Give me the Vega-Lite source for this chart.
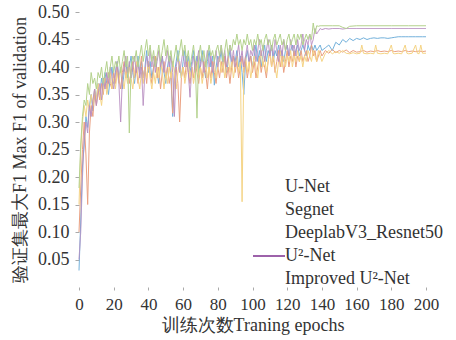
{
"$schema": "https://vega.github.io/schema/vega-lite/v6.json",
"width": 347, "height": 275,
"autosize": {"type": "none"},
"padding": {"left": 79, "top": 12, "right": 30, "bottom": 53},
"background": "white",
"config": {"font": "Liberation Serif", "view": {"stroke": null},
 "legend": {"orient": "none", "title": null, "symbolType": "stroke", "symbolStrokeWidth": 1.5, "labelFontSize": 18, "labelColor": "#333333", "labelOffset": 5, "rowPadding": 0}},
"datasets": {
"unet": [{"e":0,"v":0.03},{"e":1,"v":0.12},{"e":2,"v":0.22},{"e":3,"v":0.26},{"e":4,"v":0.31},{"e":5,"v":0.29},{"e":6,"v":0.33},{"e":7,"v":0.35},{"e":8,"v":0.32},{"e":9,"v":0.36},{"e":10,"v":0.34},{"e":11,"v":0.37},{"e":12,"v":0.35},{"e":13,"v":0.38},{"e":14,"v":0.36},{"e":15,"v":0.39},{"e":16,"v":0.37},{"e":17,"v":0.35},{"e":18,"v":0.38},{"e":19,"v":0.4},{"e":20,"v":0.37},{"e":21,"v":0.39},{"e":22,"v":0.41},{"e":23,"v":0.38},{"e":24,"v":0.4},{"e":25,"v":0.36},{"e":26,"v":0.39},{"e":27,"v":0.41},{"e":28,"v":0.38},{"e":29,"v":0.4},{"e":30,"v":0.42},{"e":31,"v":0.39},{"e":32,"v":0.37},{"e":33,"v":0.4},{"e":34,"v":0.42},{"e":35,"v":0.39},{"e":36,"v":0.41},{"e":37,"v":0.38},{"e":38,"v":0.4},{"e":39,"v":0.43},{"e":40,"v":0.39},{"e":41,"v":0.41},{"e":42,"v":0.38},{"e":43,"v":0.4},{"e":44,"v":0.42},{"e":45,"v":0.39},{"e":46,"v":0.37},{"e":47,"v":0.4},{"e":48,"v":0.42},{"e":49,"v":0.39},{"e":50,"v":0.37},{"e":51,"v":0.4},{"e":52,"v":0.42},{"e":53,"v":0.38},{"e":54,"v":0.31},{"e":55,"v":0.39},{"e":56,"v":0.41},{"e":57,"v":0.43},{"e":58,"v":0.4},{"e":59,"v":0.38},{"e":60,"v":0.41},{"e":61,"v":0.43},{"e":62,"v":0.4},{"e":63,"v":0.42},{"e":64,"v":0.39},{"e":65,"v":0.41},{"e":66,"v":0.43},{"e":67,"v":0.4},{"e":68,"v":0.42},{"e":69,"v":0.39},{"e":70,"v":0.41},{"e":71,"v":0.43},{"e":72,"v":0.4},{"e":73,"v":0.38},{"e":74,"v":0.41},{"e":75,"v":0.43},{"e":76,"v":0.4},{"e":77,"v":0.42},{"e":78,"v":0.367},{"e":79,"v":0.4},{"e":80,"v":0.42},{"e":81,"v":0.41},{"e":82,"v":0.43},{"e":83,"v":0.4},{"e":84,"v":0.42},{"e":85,"v":0.39},{"e":86,"v":0.41},{"e":87,"v":0.43},{"e":88,"v":0.4},{"e":89,"v":0.42},{"e":90,"v":0.41},{"e":91,"v":0.43},{"e":92,"v":0.4},{"e":93,"v":0.42},{"e":94,"v":0.39},{"e":95,"v":0.35},{"e":96,"v":0.41},{"e":97,"v":0.43},{"e":98,"v":0.41},{"e":99,"v":0.42},{"e":100,"v":0.4},{"e":101,"v":0.42},{"e":102,"v":0.44},{"e":103,"v":0.41},{"e":104,"v":0.43},{"e":105,"v":0.4},{"e":106,"v":0.42},{"e":107,"v":0.44},{"e":108,"v":0.41},{"e":109,"v":0.43},{"e":110,"v":0.42},{"e":111,"v":0.44},{"e":112,"v":0.41},{"e":113,"v":0.43},{"e":114,"v":0.42},{"e":115,"v":0.44},{"e":116,"v":0.42},{"e":117,"v":0.43},{"e":118,"v":0.41},{"e":119,"v":0.43},{"e":120,"v":0.44},{"e":121,"v":0.42},{"e":122,"v":0.43},{"e":123,"v":0.44},{"e":124,"v":0.42},{"e":125,"v":0.43},{"e":126,"v":0.44},{"e":127,"v":0.42},{"e":128,"v":0.43},{"e":129,"v":0.44},{"e":130,"v":0.43},{"e":131,"v":0.42},{"e":132,"v":0.44},{"e":133,"v":0.43},{"e":134,"v":0.44},{"e":135,"v":0.43},{"e":136,"v":0.44},{"e":137,"v":0.43},{"e":138,"v":0.435},{"e":139,"v":0.44},{"e":140,"v":0.43},{"e":142,"v":0.435},{"e":144,"v":0.44},{"e":146,"v":0.43},{"e":148,"v":0.445},{"e":150,"v":0.44},{"e":152,"v":0.45},{"e":154,"v":0.445},{"e":156,"v":0.452},{"e":158,"v":0.448},{"e":160,"v":0.452},{"e":162,"v":0.45},{"e":164,"v":0.453},{"e":166,"v":0.45},{"e":168,"v":0.452},{"e":170,"v":0.453},{"e":172,"v":0.452},{"e":174,"v":0.453},{"e":176,"v":0.453},{"e":178,"v":0.452},{"e":180,"v":0.453},{"e":182,"v":0.454},{"e":184,"v":0.455},{"e":186,"v":0.455},{"e":188,"v":0.455},{"e":190,"v":0.455},{"e":192,"v":0.455},{"e":194,"v":0.455},{"e":196,"v":0.455},{"e":198,"v":0.455},{"e":200,"v":0.455}],
"segnet": [{"e":0,"v":0.1},{"e":1,"v":0.18},{"e":2,"v":0.25},{"e":3,"v":0.3},{"e":4,"v":0.24},{"e":5,"v":0.15},{"e":6,"v":0.28},{"e":7,"v":0.33},{"e":8,"v":0.31},{"e":9,"v":0.35},{"e":10,"v":0.33},{"e":11,"v":0.36},{"e":12,"v":0.34},{"e":13,"v":0.37},{"e":14,"v":0.35},{"e":15,"v":0.38},{"e":16,"v":0.36},{"e":17,"v":0.39},{"e":18,"v":0.37},{"e":19,"v":0.36},{"e":20,"v":0.39},{"e":21,"v":0.37},{"e":22,"v":0.4},{"e":23,"v":0.38},{"e":24,"v":0.36},{"e":25,"v":0.39},{"e":26,"v":0.41},{"e":27,"v":0.38},{"e":28,"v":0.4},{"e":29,"v":0.37},{"e":30,"v":0.39},{"e":31,"v":0.41},{"e":32,"v":0.38},{"e":33,"v":0.4},{"e":34,"v":0.37},{"e":35,"v":0.39},{"e":36,"v":0.42},{"e":37,"v":0.38},{"e":38,"v":0.4},{"e":39,"v":0.37},{"e":40,"v":0.41},{"e":41,"v":0.39},{"e":42,"v":0.37},{"e":43,"v":0.4},{"e":44,"v":0.42},{"e":45,"v":0.38},{"e":46,"v":0.4},{"e":47,"v":0.36},{"e":48,"v":0.39},{"e":49,"v":0.41},{"e":50,"v":0.38},{"e":51,"v":0.4},{"e":52,"v":0.37},{"e":53,"v":0.39},{"e":54,"v":0.316},{"e":55,"v":0.38},{"e":56,"v":0.4},{"e":57,"v":0.37},{"e":58,"v":0.3},{"e":59,"v":0.38},{"e":60,"v":0.4},{"e":61,"v":0.38},{"e":62,"v":0.41},{"e":63,"v":0.39},{"e":64,"v":0.37},{"e":65,"v":0.4},{"e":66,"v":0.38},{"e":67,"v":0.41},{"e":68,"v":0.39},{"e":69,"v":0.37},{"e":70,"v":0.4},{"e":71,"v":0.38},{"e":72,"v":0.41},{"e":73,"v":0.39},{"e":74,"v":0.36},{"e":75,"v":0.4},{"e":76,"v":0.38},{"e":77,"v":0.41},{"e":78,"v":0.39},{"e":79,"v":0.37},{"e":80,"v":0.4},{"e":81,"v":0.38},{"e":82,"v":0.41},{"e":83,"v":0.39},{"e":84,"v":0.42},{"e":85,"v":0.38},{"e":86,"v":0.4},{"e":87,"v":0.37},{"e":88,"v":0.4},{"e":89,"v":0.42},{"e":90,"v":0.39},{"e":91,"v":0.41},{"e":92,"v":0.38},{"e":93,"v":0.4},{"e":94,"v":0.42},{"e":95,"v":0.39},{"e":96,"v":0.41},{"e":97,"v":0.38},{"e":98,"v":0.4},{"e":99,"v":0.42},{"e":100,"v":0.39},{"e":101,"v":0.41},{"e":102,"v":0.38},{"e":103,"v":0.4},{"e":104,"v":0.42},{"e":105,"v":0.39},{"e":106,"v":0.41},{"e":107,"v":0.4},{"e":108,"v":0.38},{"e":109,"v":0.41},{"e":110,"v":0.43},{"e":111,"v":0.4},{"e":112,"v":0.42},{"e":113,"v":0.39},{"e":114,"v":0.41},{"e":115,"v":0.43},{"e":116,"v":0.4},{"e":117,"v":0.42},{"e":118,"v":0.39},{"e":119,"v":0.41},{"e":120,"v":0.43},{"e":121,"v":0.4},{"e":122,"v":0.42},{"e":123,"v":0.41},{"e":124,"v":0.43},{"e":125,"v":0.4},{"e":126,"v":0.42},{"e":127,"v":0.41},{"e":128,"v":0.43},{"e":129,"v":0.41},{"e":130,"v":0.42},{"e":131,"v":0.43},{"e":132,"v":0.41},{"e":133,"v":0.42},{"e":134,"v":0.44},{"e":135,"v":0.42},{"e":136,"v":0.43},{"e":137,"v":0.41},{"e":138,"v":0.42},{"e":139,"v":0.43},{"e":140,"v":0.42},{"e":142,"v":0.43},{"e":144,"v":0.425},{"e":146,"v":0.432},{"e":148,"v":0.426},{"e":150,"v":0.43},{"e":152,"v":0.427},{"e":154,"v":0.431},{"e":156,"v":0.426},{"e":158,"v":0.43},{"e":160,"v":0.427},{"e":162,"v":0.428},{"e":164,"v":0.43},{"e":166,"v":0.427},{"e":168,"v":0.429},{"e":170,"v":0.428},{"e":172,"v":0.43},{"e":174,"v":0.428},{"e":176,"v":0.429},{"e":178,"v":0.428},{"e":180,"v":0.43},{"e":182,"v":0.428},{"e":184,"v":0.429},{"e":186,"v":0.428},{"e":188,"v":0.43},{"e":190,"v":0.428},{"e":192,"v":0.429},{"e":194,"v":0.428},{"e":196,"v":0.429},{"e":198,"v":0.428},{"e":200,"v":0.429}],
"deeplab": [{"e":0,"v":0.15},{"e":1,"v":0.25},{"e":2,"v":0.3},{"e":3,"v":0.33},{"e":4,"v":0.31},{"e":5,"v":0.34},{"e":6,"v":0.32},{"e":7,"v":0.35},{"e":8,"v":0.33},{"e":9,"v":0.36},{"e":10,"v":0.34},{"e":11,"v":0.37},{"e":12,"v":0.35},{"e":13,"v":0.33},{"e":14,"v":0.36},{"e":15,"v":0.38},{"e":16,"v":0.35},{"e":17,"v":0.37},{"e":18,"v":0.39},{"e":19,"v":0.36},{"e":20,"v":0.38},{"e":21,"v":0.36},{"e":22,"v":0.39},{"e":23,"v":0.37},{"e":24,"v":0.4},{"e":25,"v":0.38},{"e":26,"v":0.36},{"e":27,"v":0.39},{"e":28,"v":0.37},{"e":29,"v":0.4},{"e":30,"v":0.38},{"e":31,"v":0.36},{"e":32,"v":0.39},{"e":33,"v":0.41},{"e":34,"v":0.38},{"e":35,"v":0.36},{"e":36,"v":0.39},{"e":37,"v":0.37},{"e":38,"v":0.4},{"e":39,"v":0.38},{"e":40,"v":0.41},{"e":41,"v":0.38},{"e":42,"v":0.36},{"e":43,"v":0.39},{"e":44,"v":0.37},{"e":45,"v":0.4},{"e":46,"v":0.38},{"e":47,"v":0.41},{"e":48,"v":0.39},{"e":49,"v":0.36},{"e":50,"v":0.39},{"e":51,"v":0.37},{"e":52,"v":0.4},{"e":53,"v":0.38},{"e":54,"v":0.41},{"e":55,"v":0.39},{"e":56,"v":0.36},{"e":57,"v":0.39},{"e":58,"v":0.41},{"e":59,"v":0.38},{"e":60,"v":0.4},{"e":61,"v":0.37},{"e":62,"v":0.39},{"e":63,"v":0.41},{"e":64,"v":0.38},{"e":65,"v":0.4},{"e":66,"v":0.37},{"e":67,"v":0.39},{"e":68,"v":0.41},{"e":69,"v":0.38},{"e":70,"v":0.4},{"e":71,"v":0.37},{"e":72,"v":0.39},{"e":73,"v":0.41},{"e":74,"v":0.38},{"e":75,"v":0.4},{"e":76,"v":0.37},{"e":77,"v":0.39},{"e":78,"v":0.41},{"e":79,"v":0.38},{"e":80,"v":0.4},{"e":81,"v":0.42},{"e":82,"v":0.39},{"e":83,"v":0.41},{"e":84,"v":0.38},{"e":85,"v":0.4},{"e":86,"v":0.42},{"e":87,"v":0.39},{"e":88,"v":0.41},{"e":89,"v":0.38},{"e":90,"v":0.4},{"e":91,"v":0.42},{"e":92,"v":0.39},{"e":93,"v":0.41},{"e":94,"v":0.155},{"e":95,"v":0.4},{"e":96,"v":0.42},{"e":97,"v":0.39},{"e":98,"v":0.41},{"e":99,"v":0.38},{"e":100,"v":0.4},{"e":101,"v":0.42},{"e":102,"v":0.4},{"e":103,"v":0.38},{"e":104,"v":0.41},{"e":105,"v":0.43},{"e":106,"v":0.4},{"e":107,"v":0.42},{"e":108,"v":0.39},{"e":109,"v":0.41},{"e":110,"v":0.43},{"e":111,"v":0.4},{"e":112,"v":0.42},{"e":113,"v":0.4},{"e":114,"v":0.38},{"e":115,"v":0.41},{"e":116,"v":0.43},{"e":117,"v":0.4},{"e":118,"v":0.42},{"e":119,"v":0.4},{"e":120,"v":0.42},{"e":121,"v":0.41},{"e":122,"v":0.43},{"e":123,"v":0.4},{"e":124,"v":0.42},{"e":125,"v":0.41},{"e":126,"v":0.43},{"e":127,"v":0.41},{"e":128,"v":0.42},{"e":129,"v":0.4},{"e":130,"v":0.42},{"e":131,"v":0.41},{"e":132,"v":0.43},{"e":133,"v":0.42},{"e":134,"v":0.41},{"e":135,"v":0.43},{"e":136,"v":0.42},{"e":137,"v":0.41},{"e":138,"v":0.43},{"e":139,"v":0.42},{"e":140,"v":0.41},{"e":142,"v":0.425},{"e":144,"v":0.43},{"e":146,"v":0.424},{"e":148,"v":0.428},{"e":150,"v":0.425},{"e":152,"v":0.43},{"e":154,"v":0.425},{"e":156,"v":0.424},{"e":158,"v":0.426},{"e":160,"v":0.424},{"e":162,"v":0.425},{"e":163,"v":0.44},{"e":164,"v":0.425},{"e":166,"v":0.424},{"e":168,"v":0.425},{"e":170,"v":0.424},{"e":171,"v":0.44},{"e":172,"v":0.425},{"e":174,"v":0.424},{"e":176,"v":0.425},{"e":178,"v":0.424},{"e":180,"v":0.44},{"e":181,"v":0.425},{"e":182,"v":0.424},{"e":184,"v":0.425},{"e":186,"v":0.424},{"e":188,"v":0.44},{"e":189,"v":0.425},{"e":190,"v":0.424},{"e":192,"v":0.425},{"e":194,"v":0.44},{"e":195,"v":0.425},{"e":196,"v":0.424},{"e":197,"v":0.44},{"e":198,"v":0.425},{"e":200,"v":0.425}],
"u2net": [{"e":0,"v":0.05},{"e":1,"v":0.1},{"e":2,"v":0.2},{"e":3,"v":0.27},{"e":4,"v":0.3},{"e":5,"v":0.28},{"e":6,"v":0.33},{"e":7,"v":0.31},{"e":8,"v":0.34},{"e":9,"v":0.36},{"e":10,"v":0.33},{"e":11,"v":0.35},{"e":12,"v":0.37},{"e":13,"v":0.34},{"e":14,"v":0.38},{"e":15,"v":0.36},{"e":16,"v":0.39},{"e":17,"v":0.37},{"e":18,"v":0.4},{"e":19,"v":0.38},{"e":20,"v":0.36},{"e":21,"v":0.39},{"e":22,"v":0.41},{"e":23,"v":0.37},{"e":24,"v":0.3},{"e":25,"v":0.38},{"e":26,"v":0.4},{"e":27,"v":0.42},{"e":28,"v":0.39},{"e":29,"v":0.41},{"e":30,"v":0.38},{"e":31,"v":0.4},{"e":32,"v":0.42},{"e":33,"v":0.39},{"e":34,"v":0.41},{"e":35,"v":0.38},{"e":36,"v":0.4},{"e":37,"v":0.33},{"e":38,"v":0.39},{"e":39,"v":0.42},{"e":40,"v":0.4},{"e":41,"v":0.43},{"e":42,"v":0.4},{"e":43,"v":0.42},{"e":44,"v":0.39},{"e":45,"v":0.41},{"e":46,"v":0.43},{"e":47,"v":0.4},{"e":48,"v":0.42},{"e":49,"v":0.39},{"e":50,"v":0.41},{"e":51,"v":0.43},{"e":52,"v":0.4},{"e":53,"v":0.42},{"e":54,"v":0.39},{"e":55,"v":0.31},{"e":56,"v":0.4},{"e":57,"v":0.42},{"e":58,"v":0.39},{"e":59,"v":0.41},{"e":60,"v":0.43},{"e":61,"v":0.4},{"e":62,"v":0.42},{"e":63,"v":0.39},{"e":64,"v":0.345},{"e":65,"v":0.4},{"e":66,"v":0.42},{"e":67,"v":0.39},{"e":68,"v":0.41},{"e":69,"v":0.43},{"e":70,"v":0.4},{"e":71,"v":0.42},{"e":72,"v":0.39},{"e":73,"v":0.41},{"e":74,"v":0.43},{"e":75,"v":0.4},{"e":76,"v":0.42},{"e":77,"v":0.39},{"e":78,"v":0.41},{"e":79,"v":0.43},{"e":80,"v":0.4},{"e":81,"v":0.42},{"e":82,"v":0.44},{"e":83,"v":0.41},{"e":84,"v":0.43},{"e":85,"v":0.4},{"e":86,"v":0.42},{"e":87,"v":0.44},{"e":88,"v":0.41},{"e":89,"v":0.43},{"e":90,"v":0.4},{"e":91,"v":0.42},{"e":92,"v":0.44},{"e":93,"v":0.41},{"e":94,"v":0.43},{"e":95,"v":0.4},{"e":96,"v":0.42},{"e":97,"v":0.44},{"e":98,"v":0.41},{"e":99,"v":0.43},{"e":100,"v":0.42},{"e":101,"v":0.44},{"e":102,"v":0.41},{"e":103,"v":0.43},{"e":104,"v":0.45},{"e":105,"v":0.42},{"e":106,"v":0.44},{"e":107,"v":0.41},{"e":108,"v":0.43},{"e":109,"v":0.45},{"e":110,"v":0.42},{"e":111,"v":0.44},{"e":112,"v":0.42},{"e":113,"v":0.45},{"e":114,"v":0.43},{"e":115,"v":0.41},{"e":116,"v":0.44},{"e":117,"v":0.42},{"e":118,"v":0.45},{"e":119,"v":0.43},{"e":120,"v":0.44},{"e":121,"v":0.42},{"e":122,"v":0.45},{"e":123,"v":0.43},{"e":124,"v":0.44},{"e":125,"v":0.42},{"e":126,"v":0.45},{"e":127,"v":0.43},{"e":128,"v":0.44},{"e":129,"v":0.46},{"e":130,"v":0.43},{"e":131,"v":0.45},{"e":132,"v":0.44},{"e":133,"v":0.46},{"e":134,"v":0.44},{"e":135,"v":0.45},{"e":136,"v":0.47},{"e":137,"v":0.46},{"e":138,"v":0.465},{"e":139,"v":0.47},{"e":140,"v":0.468},{"e":142,"v":0.47},{"e":144,"v":0.469},{"e":146,"v":0.47},{"e":150,"v":0.47},{"e":152,"v":0.469},{"e":154,"v":0.47},{"e":160,"v":0.47},{"e":170,"v":0.47},{"e":180,"v":0.47},{"e":190,"v":0.47},{"e":200,"v":0.47}],
"improved": [{"e":0,"v":0.18},{"e":1,"v":0.26},{"e":2,"v":0.31},{"e":3,"v":0.34},{"e":4,"v":0.33},{"e":5,"v":0.37},{"e":6,"v":0.35},{"e":7,"v":0.39},{"e":8,"v":0.37},{"e":9,"v":0.38},{"e":10,"v":0.36},{"e":11,"v":0.39},{"e":12,"v":0.38},{"e":13,"v":0.4},{"e":14,"v":0.37},{"e":15,"v":0.39},{"e":16,"v":0.41},{"e":17,"v":0.38},{"e":18,"v":0.4},{"e":19,"v":0.42},{"e":20,"v":0.39},{"e":21,"v":0.41},{"e":22,"v":0.4},{"e":23,"v":0.42},{"e":24,"v":0.39},{"e":25,"v":0.41},{"e":26,"v":0.43},{"e":27,"v":0.4},{"e":28,"v":0.42},{"e":29,"v":0.28},{"e":30,"v":0.4},{"e":31,"v":0.42},{"e":32,"v":0.41},{"e":33,"v":0.43},{"e":34,"v":0.4},{"e":35,"v":0.42},{"e":36,"v":0.44},{"e":37,"v":0.41},{"e":38,"v":0.43},{"e":39,"v":0.45},{"e":40,"v":0.42},{"e":41,"v":0.44},{"e":42,"v":0.41},{"e":43,"v":0.43},{"e":44,"v":0.4},{"e":45,"v":0.42},{"e":46,"v":0.44},{"e":47,"v":0.41},{"e":48,"v":0.43},{"e":49,"v":0.45},{"e":50,"v":0.42},{"e":51,"v":0.44},{"e":52,"v":0.41},{"e":53,"v":0.43},{"e":54,"v":0.4},{"e":55,"v":0.42},{"e":56,"v":0.44},{"e":57,"v":0.41},{"e":58,"v":0.43},{"e":59,"v":0.45},{"e":60,"v":0.42},{"e":61,"v":0.44},{"e":62,"v":0.41},{"e":63,"v":0.43},{"e":64,"v":0.4},{"e":65,"v":0.42},{"e":66,"v":0.44},{"e":67,"v":0.41},{"e":68,"v":0.307},{"e":69,"v":0.42},{"e":70,"v":0.44},{"e":71,"v":0.41},{"e":72,"v":0.43},{"e":73,"v":0.4},{"e":74,"v":0.42},{"e":75,"v":0.44},{"e":76,"v":0.42},{"e":77,"v":0.43},{"e":78,"v":0.41},{"e":79,"v":0.43},{"e":80,"v":0.44},{"e":81,"v":0.42},{"e":82,"v":0.44},{"e":83,"v":0.41},{"e":84,"v":0.43},{"e":85,"v":0.45},{"e":86,"v":0.42},{"e":87,"v":0.44},{"e":88,"v":0.43},{"e":89,"v":0.45},{"e":90,"v":0.44},{"e":91,"v":0.46},{"e":92,"v":0.44},{"e":93,"v":0.45},{"e":94,"v":0.43},{"e":95,"v":0.45},{"e":96,"v":0.44},{"e":97,"v":0.46},{"e":98,"v":0.44},{"e":99,"v":0.45},{"e":100,"v":0.43},{"e":101,"v":0.45},{"e":102,"v":0.44},{"e":103,"v":0.46},{"e":104,"v":0.44},{"e":105,"v":0.45},{"e":106,"v":0.43},{"e":107,"v":0.45},{"e":108,"v":0.46},{"e":109,"v":0.44},{"e":110,"v":0.45},{"e":111,"v":0.43},{"e":112,"v":0.45},{"e":113,"v":0.46},{"e":114,"v":0.44},{"e":115,"v":0.45},{"e":116,"v":0.46},{"e":117,"v":0.44},{"e":118,"v":0.45},{"e":119,"v":0.43},{"e":120,"v":0.45},{"e":121,"v":0.46},{"e":122,"v":0.44},{"e":123,"v":0.45},{"e":124,"v":0.46},{"e":125,"v":0.44},{"e":126,"v":0.46},{"e":127,"v":0.45},{"e":128,"v":0.46},{"e":129,"v":0.44},{"e":130,"v":0.45},{"e":131,"v":0.46},{"e":132,"v":0.45},{"e":133,"v":0.46},{"e":134,"v":0.45},{"e":135,"v":0.48},{"e":136,"v":0.46},{"e":137,"v":0.475},{"e":138,"v":0.474},{"e":139,"v":0.475},{"e":140,"v":0.475},{"e":146,"v":0.475},{"e":150,"v":0.475},{"e":152,"v":0.472},{"e":154,"v":0.47},{"e":156,"v":0.474},{"e":160,"v":0.475},{"e":170,"v":0.475},{"e":180,"v":0.475},{"e":190,"v":0.475},{"e":200,"v":0.475}]
},
"encoding": {
"x": {"field": "e", "type": "quantitative", "scale": {"domain": [0, 200]},
 "axis": {"values": [0,20,40,60,80,100,120,140,160,180,200], "domain": false, "grid": false, "tickSize": 3, "tickColor": "#aaaaaa", "labelFontSize": 17, "labelColor": "#333333", "labelPadding": 6, "labelOverlap": false, "labelBound": false, "labelFlush": false, "title": "训练次数Traning epochs", "titleFontSize": 18, "titleFontWeight": "normal", "titleColor": "#333333", "titlePadding": 4}},
"y": {"field": "v", "type": "quantitative", "scale": {"domain": [0, 0.5]},
 "axis": {"values": [0.05,0.1,0.15,0.2,0.25,0.3,0.35,0.4,0.45,0.5], "format": ".2f", "domain": false, "grid": false, "tickSize": 4, "tickColor": "#aaaaaa", "labelFontSize": 18, "labelColor": "#333333", "labelPadding": 6, "labelOverlap": false, "labelBound": false, "labelFlush": false, "title": "验证集最大F1 Max F1 of validation", "titleFontSize": 18, "titleFontWeight": "normal", "titleColor": "#333333", "titlePadding": 8}}
},
"layer": [
{"data": {"name": "unet"}, "mark": {"type": "line", "strokeWidth": 1},
 "encoding": {"color": {"datum": "U-Net", "type": "nominal",
  "scale": {"domain": ["U-Net", "Segnet", "DeeplabV3_Resnet50", "U²-Net", "Improved U²-Net"], "range": ["#73B1DB", "#EAA081", "#F5D485", "#B88DC1", "#B4D28D"]},
  "legend": {"legendX": 173, "legendY": 161, "symbolSize": 700, "symbolOpacity": 0}}}},
{"data": {"name": "segnet"}, "mark": {"type": "line", "strokeWidth": 1}, "encoding": {"color": {"datum": "Segnet", "type": "nominal"}}},
{"data": {"name": "deeplab"}, "mark": {"type": "line", "strokeWidth": 1}, "encoding": {"color": {"datum": "DeeplabV3_Resnet50", "type": "nominal"}}},
{"data": {"name": "u2net"}, "mark": {"type": "line", "strokeWidth": 1}, "encoding": {"color": {"datum": "U²-Net", "type": "nominal"},
  "strokeDash": {"datum": "U²-Net", "type": "nominal", "scale": {"range": [[1, 0]]},
   "legend": {"legendX": 173, "legendY": 227, "symbolSize": 1024, "symbolStrokeColor": "#7E2F8E", "symbolOpacity": 1, "labelExpr": "''"}}}},
{"data": {"name": "improved"}, "mark": {"type": "line", "strokeWidth": 1}, "encoding": {"color": {"datum": "Improved U²-Net", "type": "nominal"}}}
]
}
